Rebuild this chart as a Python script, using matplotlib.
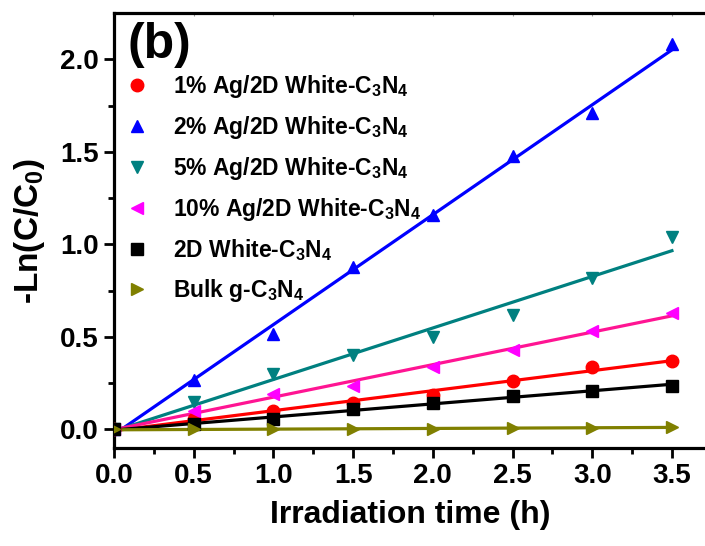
import numpy as np
import matplotlib
matplotlib.use("Agg")
import matplotlib.pyplot as plt

plt.rcParams['font.family'] = ["Liberation Sans", "DejaVu Sans"]
plt.rcParams['font.weight'] = 'bold'
plt.rcParams['axes.labelweight'] = 'bold'
plt.rcParams['mathtext.fontset'] = 'custom'
plt.rcParams['mathtext.rm'] = 'Liberation Sans:bold'
plt.rcParams['mathtext.it'] = 'Liberation Sans:bold'
plt.rcParams['mathtext.bf'] = 'Liberation Sans:bold'

# irradiation time (h)
time_h = [0, 0.5, 1.0, 1.5, 2.0, 2.5, 3.0, 3.5]

ag1 = [0, 0.058, 0.10, 0.144, 0.185, 0.264, 0.338, 0.372]
ag2 = [0, 0.27, 0.515, 0.88, 1.16, 1.48, 1.71, 2.08]
ag5 = [0, 0.15, 0.30, 0.40, 0.50, 0.62, 0.82, 1.04]
ag10 = [0, 0.10, 0.19, 0.237, 0.335, 0.43, 0.53, 0.63]
white2d = [0, 0.03, 0.055, 0.11, 0.144, 0.18, 0.21, 0.237]
bulk = [0, 0.0, 0.0, 0.004, 0.005, 0.007, 0.01, 0.012]

labels = ["1% Ag/2D White-C$_3$N$_4$", "2% Ag/2D White-C$_3$N$_4$",
          "5% Ag/2D White-C$_3$N$_4$", "10% Ag/2D White-C$_3$N$_4$",
          "2D White-C$_3$N$_4$", "Bulk g-C$_3$N$_4$"]
series = [ag1, ag2, ag5, ag10, white2d, bulk]
marker_colors = ['#FF0000', '#0000FF', '#008080', '#FF00FF', '#000000', '#808000']
line_colors = ['#FF0000', '#0000FF', '#008080', '#FF1493', '#000000', '#808000']
markers = ['o', '^', 'v', '<', 's', '>']

fig = plt.figure(figsize=(7.05, 5.46), dpi=100)
ax = fig.add_axes([114 / 705, 1 - 448 / 546, (707 - 114) / 705, (448 - 13) / 546])

t = np.array(time_h)
for y, lab, mc, lc, m in zip(series, labels, marker_colors, line_colors, markers):
    k, b = np.polyfit(t, y, 1)
    ax.plot(t, k * t + b, color=lc, lw=2.3, zorder=2)
    ax.plot(t, y, ls='none', marker=m, color=mc, ms=9, label=lab, zorder=3)

ax.set_xlim(0, 3.72)
ax.set_ylim(-0.1, 2.25)
ax.set_xticks(np.arange(0, 3.51, 0.5))
ax.set_yticks(np.arange(0, 2.01, 0.5))
ax.set_xticks(np.arange(0.25, 3.6, 0.5), minor=True)
ax.set_yticks(np.arange(0.25, 2.2, 0.5), minor=True)
ax.xaxis.set_major_formatter(matplotlib.ticker.FormatStrFormatter('%.1f'))
ax.yaxis.set_major_formatter(matplotlib.ticker.FormatStrFormatter('%.1f'))

ax.tick_params(which='major', direction='out', length=7, width=2, labelsize=20, pad=4,
               top=False, right=False)
ax.tick_params(which='minor', direction='out', length=4, width=2, top=False, right=False)
# faint inward ticks on the top axis
ax.secondary_xaxis('top').tick_params(which='both', direction='in', length=2, width=0.8,
                                      color='#999999', labeltop=False)
for s in ax.spines.values():
    s.set_linewidth(2.3)

ax.set_xlabel('Irradiation time (h)', fontsize=23, labelpad=8)
ax.set_ylabel('-Ln(C/C$_0$)', fontsize=24, labelpad=9)

ax.text(0.085, 2.20, '(b)', fontsize=36, fontweight='bold', va='top', ha='left')

leg = ax.legend(loc='upper left', bbox_to_anchor=(-0.018, 0.90), frameon=False,
                fontsize=16.5, handletextpad=0.85, labelspacing=0.62, borderaxespad=0.3,
                handlelength=1.5)

fig.savefig('out.png', dpi=100)
